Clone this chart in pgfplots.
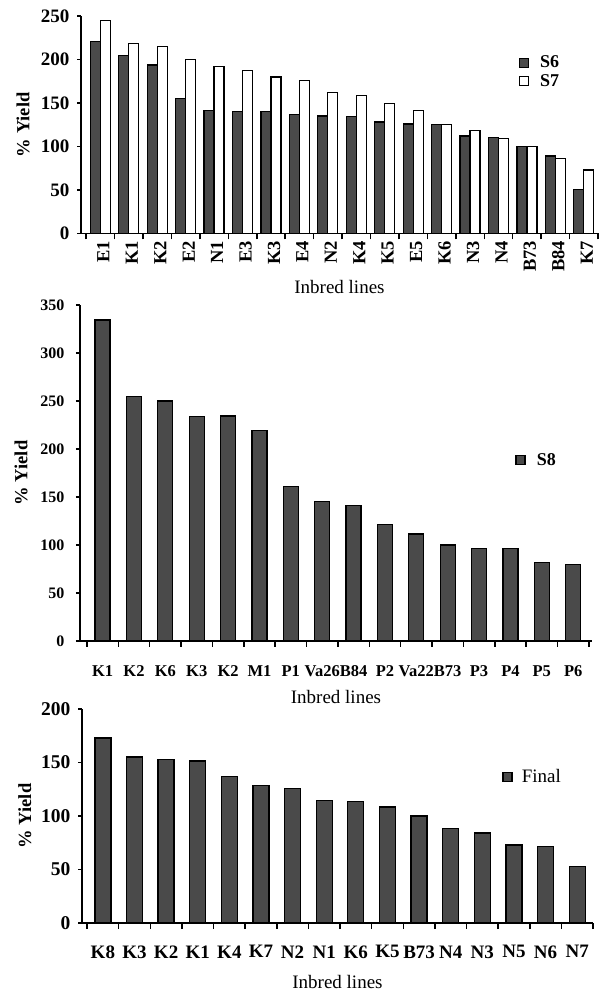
\documentclass[border=0pt]{standalone}
\usepackage{pgfplots}
\pgfplotsset{compat=1.18}
\usepackage{fontspec}
\setmainfont{Liberation Serif}
\definecolor{bardark}{HTML}{4A4A4A}
\newcommand\fs[1]{\fontsize{#1}{#1}\selectfont}

\pgfplotsset{
  sqlegend/.style={legend image code/.code={\draw[##1, line width=1.5pt] (0pt,-4.5pt) rectangle (9pt,4.5pt);}},
  panel/.style={
    scale only axis,
    anchor=south west,
    axis lines*=left,
    axis line style={line width=1.8pt, black},
    enlargelimits=false,
    ymin=0,
    clip=false,
    tick align=outside,
    /pgf/number format/assume math mode=true,
    major tick length=4pt,
    minor tick length=6pt,
    major y tick style={line width=1.5pt, black},
    major x tick style={draw=none},
    minor x tick style={line width=1.5pt, black},
    every axis plot/.append style={draw=black, line width=1.3pt},
    every axis plot post/.append style={sqlegend},
    legend cell align=left,
  }
}

\begin{document}
\begin{tikzpicture}
\useasboundingbox (0,0) rectangle (602pt,992pt);

% ---------- Panel 1 ----------
\begin{axis}[panel,
  at={(81pt,758.5pt)}, width=517pt, height=217.5pt,
  xmin=-0.68, xmax=17.5, ymax=250, ytick={0,50,...,250},
  xtick={0,...,17},
  xticklabels={E1,K1,K2,E2,N1,E3,K3,E4,N2,K4,K5,E5,K6,N3,N4,B73,B84,K7},
  minor xtick={-0.5,0.5,...,17.5},
  xticklabel style={rotate=90, anchor=east, font=\bfseries\fs{18.5}, yshift=-3pt},
  yticklabel style={font=\bfseries\fs{19}, xshift=-4pt},
  ybar=0pt, bar width=10pt,
  xlabel={Inbred lines},
  xlabel style={at={(axis description cs:0.5,-0.246)}, anchor=center, font=\fs{19}},
  ylabel={\% Yield},
  ylabel style={at={(axis description cs:-0.112,0.5)}, anchor=center, font=\bfseries\fs{18.5}},
  legend style={draw=none, fill=none, at={(0.846,0.7425)}, anchor=west, font=\bfseries\fs{18}, inner sep=0pt, row sep=1pt,
    /tikz/every odd column/.append style={column sep=9pt}},
]
\addplot[fill=bardark] coordinates {
 (0,221) (1,204.5) (2,193.5) (3,155.5) (4,141) (5,140) (6,140) (7,137) (8,135)
 (9,134.5) (10,128) (11,126) (12,125) (13,112) (14,110.5) (15,100) (16,89) (17,50.5)};
\addplot[fill=white] coordinates {
 (0,244.5) (1,218) (2,215) (3,200) (4,192) (5,187.5) (6,180) (7,175.5) (8,162)
 (9,158.5) (10,149.5) (11,141) (12,125) (13,118.5) (14,109) (15,100) (16,86.5) (17,73)};
\legend{S6,S7}
\end{axis}

% ---------- Panel 2 ----------
\begin{axis}[panel,
  at={(80pt,351pt)}, width=512pt, height=336pt,
  xmin=-0.72, xmax=15.6, ymax=350, ytick={0,50,...,350},
  xtick={0,...,15},
  xticklabels={K1,K2,K6,K3,K2,M1,P1,Va26,B84,P2,Va22,B73,P3,P4,P5,P6},
  minor xtick={-0.5,0.5,...,15.5},
  xticklabel style={font=\bfseries\fs{16.5}, yshift=-17pt},
  yticklabel style={font=\bfseries\fs{16}, xshift=-8pt},
  ybar=0pt, bar width=15pt,
  xlabel={Inbred lines},
  xlabel style={at={(axis description cs:0.5,-0.167)}, anchor=center, font=\fs{19}},
  ylabel={\% Yield},
  ylabel style={at={(axis description cs:-0.115,0.5)}, anchor=center, font=\bfseries\fs{18.5}},
  legend style={draw=none, fill=none, at={(0.85,0.539)}, anchor=west, font=\bfseries\fs{18}, inner sep=0pt,
    /tikz/every odd column/.append style={column sep=9pt}},
]
\addplot[fill=bardark] coordinates {
 (0,334.5) (1,255) (2,250) (3,233.5) (4,234.5) (5,219) (6,161) (7,145)
 (8,141.5) (9,121.5) (10,111.5) (11,100) (12,96.5) (13,96.5) (14,82) (15,80)};
\legend{S8}
\end{axis}

% ---------- Panel 3 ----------
\begin{axis}[panel,
  at={(82pt,69pt)}, width=511pt, height=214pt,
  xmin=-0.66, xmax=15.5, ymax=200, ytick={0,50,...,200},
  xtick={0,...,15},
  xticklabels={K8,K3,K2,K1,K4,K7,N2,N1,K6,K5,B73,N4,N3,N5,N6,N7},
  minor xtick={-0.5,0.5,...,15.5},
  xticklabel style={font=\bfseries\fs{19}, yshift=-15pt},
  yticklabel style={font=\bfseries\fs{19.5}, xshift=-4pt},
  ybar=0pt, bar width=16pt,
  xlabel={Inbred lines},
  xlabel style={at={(axis description cs:0.5,-0.276)}, anchor=center, font=\fs{19}},
  ylabel={\% Yield},
  ylabel style={at={(axis description cs:-0.112,0.5)}, anchor=center, font=\bfseries\fs{18.5}},
  legend style={draw=none, fill=none, at={(0.822,0.682)}, anchor=west, font=\fs{19}, inner sep=0pt,
    /tikz/every odd column/.append style={column sep=7pt}},
]
\addplot[fill=bardark] coordinates {
 (0,173) (1,155) (2,152.5) (3,151.5) (4,137) (5,128.5) (6,125.5) (7,114.5)
 (8,113.5) (9,108.5) (10,100) (11,88.5) (12,84) (13,73) (14,71.5) (15,52.5)};
\legend{Final}
\end{axis}
\end{tikzpicture}
\end{document}
